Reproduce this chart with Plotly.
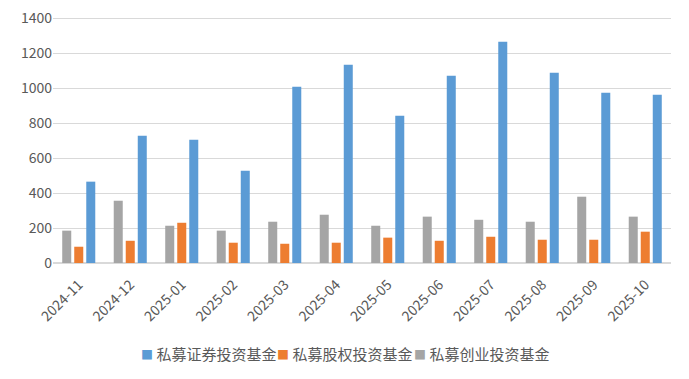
import plotly.graph_objects as go

months = ["2024-11", "2024-12", "2025-01", "2025-02", "2025-03", "2025-04",
          "2025-05", "2025-06", "2025-07", "2025-08", "2025-09", "2025-10"]
securities = [465, 727, 705, 527, 1007, 1133, 842, 1070, 1265, 1088, 973, 962]
equity = [93, 127, 230, 116, 110, 116, 145, 127, 150, 133, 133, 179]
venture = [185, 356, 213, 185, 236, 276, 213, 265, 247, 236, 379, 265]
y_ticks = [0, 200, 400, 600, 800, 1000, 1200, 1400]

names = ["私募创业投资基金", "私募股权投资基金", "私募证券投资基金"]
colors = ["#A5A5A5", "#ED7D31", "#5B9BD5"]
series = [venture, equity, securities]

fig = go.Figure()
for n, c, v in zip(names, colors, series):
    fig.add_trace(go.Bar(x=months, y=v, name=n, marker=dict(color=c, line=dict(width=0))))

font_family = "Noto Sans CJK SC, Noto Sans, sans-serif"

# legend drawn as annotations (order: securities, equity, venture)
legend_x = [0.139, 0.360, 0.581]
for i, (n, c) in enumerate(zip(names[::-1], colors[::-1])):
    fig.add_annotation(
        xref="paper", yref="paper", x=legend_x[i], y=-0.367,
        xanchor="left", yanchor="middle", showarrow=False,
        text=f"<span style='color:{c};font-size:12px'>■</span> {n}",
        font=dict(size=15, color="#595959", family=font_family),
    )

fig.update_layout(
    width=689, height=379,
    margin=dict(l=53, r=18, t=16, b=116, autoexpand=False),
    paper_bgcolor="white", plot_bgcolor="white",
    barmode="group", bargap=0.30, bargroupgap=0.25,
    font=dict(family=font_family, color="#595959", size=14),
    showlegend=False,
    xaxis=dict(type="category", tickangle=-45, showgrid=False, showline=True,
               linecolor="#D9D9D9", ticks="", automargin=False, ticklabelstandoff=7,
               tickfont=dict(size=14, color="#595959")),
    yaxis=dict(range=[0, 1412], tickvals=y_ticks,
               showgrid=True, gridcolor="#D9D9D9",
               gridwidth=1, zeroline=True, zerolinecolor="#D9D9D9", showline=False,
               ticks="", automargin=False, tickfont=dict(size=14, color="#595959")),
)
fig.write_html("out.html", config={"displayModeBar": False},
               post_script="document.body.style.margin='0';")
